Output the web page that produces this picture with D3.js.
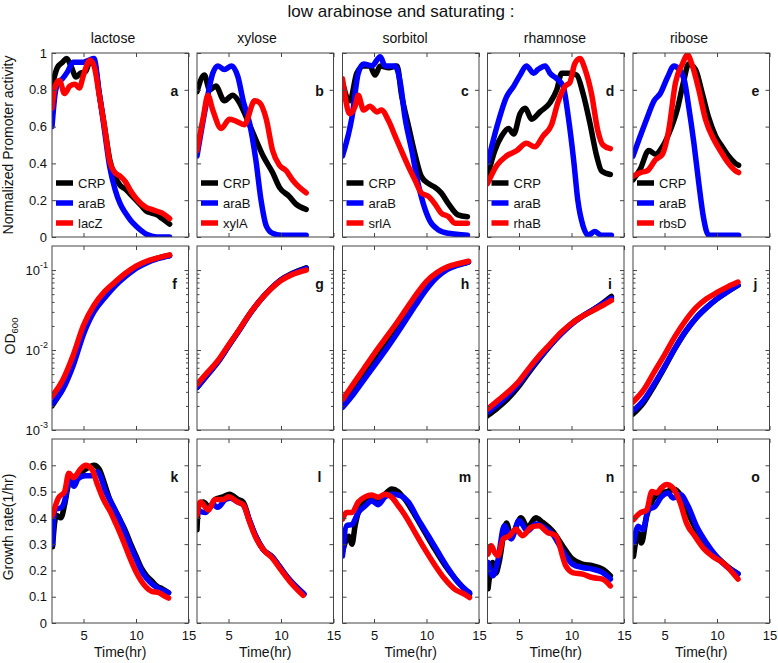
<!DOCTYPE html>
<html><head><meta charset="utf-8">
<script src="https://cdn.jsdelivr.net/npm/d3@7"></script>
<style>body{margin:0;background:#fff;} svg{display:block;font-family:Arial,"Liberation Sans",Helvetica,sans-serif;}</style>
</head><body><svg id="chart" width="778" height="663"></svg>
<script>
// ---------- labels / ticks ----------
const chartTitle = "low arabinose and saturating :";
const carbons = ["lactose","xylose","sorbitol","rhamnose","ribose"];
const seriesLabels = [["CRP","araB","lacZ"],["CRP","araB","xylA"],["CRP","araB","srlA"],["CRP","araB","rhaB"],["CRP","araB","rbsD"]];
const panelLetters = [["a","b","c","d","e"],["f","g","h","i","j"],["k","l","m","n","o"]];
const seriesColors = ["#000000","#0000ff","#ff0000"];
const timeDomain = [2,15];
const timeTicks = [5,10,15];
const promDomain = [0,1];
const promTicks = [0,0.2,0.4,0.6,0.8,1];
const odDomain = [0.001,0.2];
const odTicks = [0.001,0.01,0.1];
const odTickExp = ["-3","-2","-1"];
const odMinorTicks = [0.002,0.003,0.004,0.005,0.006,0.007,0.008,0.009,0.02,0.03,0.04,0.05,0.06,0.07,0.08,0.09];
const rateDomain = [0,0.7];
const rateTicks = [0,0.1,0.2,0.3,0.4,0.5,0.6];

// ---------- row 1: normalized promoter activity [time(hr), value] ----------
const a_CRP = [[2,0.82],[2.5,0.92],[3,0.95],[3.4,0.97],[3.8,0.93],[4.3,0.87],[4.7,0.89],[5.2,0.9],[5.6,0.95],[6,0.95],[6.5,0.78],[7,0.6],[7.5,0.42],[8,0.33],[8.5,0.28],[9,0.26],[9.5,0.23],[10,0.2],[10.5,0.17],[11,0.14],[11.5,0.13],[12,0.12],[12.5,0.1],[13.2,0.07]];
const a_araB = [[2,0.6],[2.3,0.78],[2.6,0.84],[3,0.86],[3.5,0.9],[4,0.95],[4.5,0.95],[5,0.95],[5.5,0.96],[6,0.97],[6.5,0.78],[7,0.58],[7.5,0.38],[8,0.26],[8.5,0.18],[9,0.13],[9.5,0.09],[10,0.06],[10.5,0.035],[11,0.015],[11.5,0.005],[12,0],[13.2,0]];
const a_lacZ = [[2,0.7],[2.3,0.82],[2.7,0.85],[3.2,0.78],[3.7,0.82],[4.2,0.83],[4.6,0.81],[5,0.88],[5.6,0.96],[6,0.93],[6.5,0.77],[7,0.6],[7.5,0.41],[8,0.35],[8.5,0.33],[9,0.3],[9.5,0.25],[10,0.21],[10.5,0.18],[11,0.16],[11.5,0.15],[12,0.14],[12.5,0.13],[13.2,0.1]];
const b_CRP = [[2,0.79],[2.7,0.88],[3.2,0.8],[3.8,0.82],[4.6,0.74],[5.4,0.77],[6.05,0.73],[6.7,0.65],[7.6,0.53],[8.3,0.44],[9.2,0.35],[9.85,0.27],[10.8,0.22],[11.4,0.18],[12.4,0.15]];
const b_araB = [[2,0.44],[2.9,0.73],[3.5,0.89],[4,0.93],[4.6,0.91],[5.3,0.93],[5.9,0.87],[6.4,0.74],[7,0.62],[7.6,0.42],[8.1,0.2],[8.6,0.06],[9.2,0.02],[10,0.01],[12.4,0.01]];
const b_xylA = [[2,0.47],[2.6,0.65],[3.04,0.77],[3.5,0.69],[4.3,0.59],[5.1,0.64],[5.7,0.63],[6.5,0.61],[7.5,0.74],[7.95,0.73],[8.6,0.64],[9.2,0.47],[9.85,0.39],[10.5,0.36],[11.1,0.31],[11.75,0.27],[12.4,0.24]];
const c_CRP = [[2,0.84],[2.7,0.74],[3.36,0.89],[4,0.93],[4.6,0.93],[5.1,0.88],[5.6,0.93],[6.4,0.92],[7.2,0.93],[7.6,0.78],[8.3,0.6],[8.9,0.45],[9.5,0.33],[10.2,0.29],[10.8,0.27],[11.4,0.24],[12.1,0.18],[13,0.12],[13.9,0.11]];
const c_araB = [[2,0.44],[2.9,0.65],[3.5,0.89],[4,0.94],[4.8,0.93],[5.6,0.98],[6.05,0.93],[7,0.93],[7.5,0.84],[7.95,0.65],[8.6,0.47],[9.2,0.29],[9.7,0.18],[10.3,0.09],[11.1,0.04],[12.1,0.02],[13.9,0.01]];
const c_srlA = [[2,0.86],[2.7,0.67],[3.2,0.71],[3.5,0.77],[4,0.69],[4.6,0.71],[5.3,0.68],[5.7,0.69],[6.4,0.63],[7,0.55],[7.6,0.47],[8.3,0.38],[8.9,0.31],[9.5,0.24],[10.2,0.22],[10.8,0.18],[11.4,0.13],[12.1,0.11],[12.7,0.075],[13.9,0.075]];
const d_CRP = [[2,0.33],[2.7,0.47],[3.36,0.55],[4,0.59],[4.5,0.56],[5.1,0.67],[5.6,0.7],[6.2,0.64],[7,0.68],[7.95,0.73],[8.6,0.8],[9.06,0.89],[9.85,0.89],[10.5,0.88],[11.1,0.78],[11.75,0.62],[12.4,0.44],[12.85,0.36],[13.7,0.34]];
const d_araB = [[2,0.4],[2.9,0.6],[3.8,0.76],[4.5,0.82],[5.1,0.88],[5.7,0.93],[6.4,0.89],[6.8,0.91],[7.5,0.93],[7.95,0.89],[8.6,0.86],[9.2,0.82],[9.7,0.65],[10.2,0.42],[10.6,0.2],[11.1,0.06],[11.6,0.01],[12.2,0.03],[12.85,0.01],[13.8,0.01]];
const d_rhaB = [[2,0.29],[2.9,0.39],[3.8,0.44],[4.8,0.47],[5.7,0.51],[6.5,0.49],[7.3,0.55],[8.1,0.61],[8.7,0.73],[9.4,0.82],[9.85,0.84],[10.3,0.94],[10.8,0.97],[11.3,0.91],[11.9,0.78],[12.5,0.58],[13,0.5],[13.7,0.48]];
const e_CRP = [[2,0.31],[2.7,0.37],[3.5,0.47],[4.15,0.45],[4.8,0.49],[5.4,0.56],[6.2,0.69],[6.8,0.84],[7.3,0.94],[7.95,0.91],[8.6,0.78],[9.2,0.65],[9.85,0.55],[10.5,0.49],[11.1,0.44],[11.75,0.4],[12.06,0.39]];
const e_araB = [[2,0.44],[2.7,0.55],[3.36,0.65],[4,0.74],[4.6,0.78],[5.3,0.87],[5.9,0.93],[6.4,0.91],[6.9,0.85],[7.3,0.71],[7.8,0.51],[8.27,0.29],[8.7,0.11],[9.2,0.01],[12.06,0.01]];
const e_rbsD = [[2,0.33],[2.7,0.35],[3.36,0.36],[4.15,0.42],[4.8,0.45],[5.4,0.58],[6.05,0.84],[6.7,0.94],[7.2,0.99],[7.6,0.94],[8.27,0.8],[8.9,0.64],[9.7,0.53],[10.3,0.47],[11.1,0.4],[11.75,0.36],[12.06,0.35]];

// ---------- row 2: OD600 ----------
const f_CRP = [[2,0.002],[3,0.0033],[4,0.0068],[5,0.0168],[6,0.0316],[7,0.0468],[8,0.065],[9,0.085],[10,0.107],[11,0.125],[12,0.14],[13.2,0.152]];
const f_araB = [[2,0.00209],[3,0.00316],[4,0.0063],[5,0.0158],[6,0.0302],[7,0.0447],[8,0.0631],[9,0.0832],[10,0.105],[11,0.123],[12,0.138],[13.2,0.151]];
const f_lacZ = [[2,0.00263],[3,0.00417],[4,0.0085],[5,0.0204],[6,0.0363],[7,0.0537],[8,0.0708],[9,0.0912],[10,0.112],[11,0.129],[12,0.141],[13.2,0.155]];
const g_CRP = [[2,0.00339],[3,0.0049],[4,0.0071],[5,0.0112],[6,0.0176],[7,0.028],[8,0.0417],[9,0.058],[10,0.076],[11,0.09],[12.4,0.107]];
const g_araB = [[2,0.00339],[3,0.0049],[4,0.0071],[5,0.0112],[6,0.0175],[7,0.0279],[8,0.0415],[9,0.0578],[10,0.075],[11,0.089],[12.4,0.105]];
const g_xylA = [[2,0.00372],[3,0.00525],[4,0.00741],[5,0.0115],[6,0.0178],[7,0.0282],[8,0.0417],[9,0.0575],[10,0.0741],[11,0.0871],[12.4,0.1]];
const h_CRP = [[2,0.00209],[3,0.00316],[4,0.00501],[5,0.00759],[6,0.0117],[7,0.0182],[8,0.0282],[9,0.0437],[10,0.0661],[11,0.0871],[12,0.105],[13,0.117],[14,0.126]];
const h_araB = [[2,0.00191],[3,0.00275],[4,0.00417],[5,0.00631],[6,0.00955],[7,0.0148],[8,0.0234],[9,0.0372],[10,0.0575],[11,0.0813],[12,0.102],[13,0.115],[14,0.126]];
const h_srlA = [[2,0.0024],[3,0.00372],[4,0.00575],[5,0.00891],[6,0.0135],[7,0.0204],[8,0.0316],[9,0.049],[10,0.0724],[11,0.0933],[12,0.11],[13,0.12],[14,0.129]];
const i_CRP = [[2,0.00151],[3,0.00191],[4,0.00251],[5,0.00355],[6,0.00537],[7,0.00794],[8,0.0115],[9,0.0162],[10,0.0214],[11,0.0263],[12,0.0316],[13,0.0389],[13.8,0.0468]];
const i_araB = [[2,0.00166],[3,0.00209],[4,0.00275],[5,0.0038],[6,0.00562],[7,0.00813],[8,0.0115],[9,0.0158],[10,0.0209],[11,0.0263],[12,0.0316],[13,0.038],[13.8,0.0447]];
const i_rhaB = [[2,0.00182],[3,0.00234],[4,0.00302],[5,0.00407],[6,0.00603],[7,0.00871],[8,0.012],[9,0.0166],[10,0.0214],[11,0.0263],[12,0.0309],[13,0.0363],[13.8,0.0417]];
const j_CRP = [[2,0.00158],[3,0.00219],[4,0.00355],[5,0.00603],[6,0.0105],[7,0.017],[8,0.0251],[9,0.0339],[10,0.0437],[11,0.0537],[12,0.0646]];
const j_araB = [[2,0.00174],[3,0.00234],[4,0.00372],[5,0.00617],[6,0.0105],[7,0.017],[8,0.0251],[9,0.0339],[10,0.0437],[11,0.0537],[12,0.0646]];
const j_rbsD = [[2,0.00224],[3,0.00316],[4,0.00525],[5,0.00871],[6,0.0148],[7,0.0234],[8,0.0339],[9,0.0437],[10,0.0525],[11,0.0617],[12,0.0708]];

// ---------- row 3: growth rate (1/hr) ----------
const k_CRP = [[2.05,0.29],[2.4,0.41],[2.85,0.4],[3.2,0.45],[3.6,0.53],[4.05,0.55],[4.7,0.57],[5.2,0.585],[6,0.6],[6.5,0.585],[7,0.53],[7.5,0.47],[8,0.43],[8.5,0.39],[9,0.35],[9.5,0.3],[10,0.255],[10.5,0.21],[11,0.18],[11.5,0.16],[12,0.14],[12.5,0.13],[13.1,0.115]];
const k_araB = [[2.05,0.3],[2.25,0.43],[2.9,0.44],[3.3,0.48],[3.6,0.55],[4.1,0.52],[4.5,0.55],[5.2,0.56],[5.8,0.56],[6.3,0.575],[6.7,0.55],[7,0.51],[7.5,0.47],[8,0.43],[8.5,0.39],[9,0.34],[9.5,0.29],[10,0.245],[10.5,0.2],[11,0.17],[11.5,0.15],[12,0.135],[12.5,0.125],[13.1,0.115]];
const k_lacZ = [[2.05,0.41],[2.6,0.475],[3.2,0.5],[3.6,0.57],[4.05,0.553],[4.7,0.585],[5.2,0.6],[5.8,0.585],[6.3,0.53],[6.9,0.47],[7.6,0.42],[8,0.385],[8.5,0.34],[9,0.29],[9.5,0.24],[10,0.195],[10.5,0.16],[11,0.135],[11.5,0.12],[12.2,0.115],[12.6,0.105],[13.1,0.095]];
const l_CRP = [[2,0.355],[2.15,0.45],[2.6,0.46],[3.2,0.44],[3.7,0.47],[4.5,0.48],[5.1,0.49],[5.9,0.47],[6.4,0.46],[7,0.39],[7.6,0.33],[8.3,0.28],[9.2,0.25],[9.85,0.215],[10.8,0.165],[12.1,0.113]];
const l_araB = [[2,0.43],[2.8,0.42],[3.5,0.45],[4,0.44],[4.7,0.47],[5.2,0.475],[5.9,0.46],[6.4,0.45],[7,0.39],[7.6,0.33],[8.3,0.28],[9.2,0.25],[9.85,0.215],[10.8,0.165],[12.2,0.11]];
const l_xylA = [[2,0.41],[2.3,0.46],[3.1,0.43],[3.7,0.47],[4.5,0.47],[5,0.48],[5.9,0.46],[6.4,0.45],[7,0.385],[7.6,0.325],[8.3,0.28],[9.2,0.245],[9.85,0.21],[10.8,0.16],[12.1,0.105]];
const m_CRP = [[2,0.27],[2.6,0.33],[2.9,0.3],[3.2,0.37],[3.5,0.42],[4.15,0.46],[4.8,0.48],[5.6,0.466],[6.05,0.49],[6.7,0.51],[7.3,0.5],[7.95,0.47],[8.9,0.41],[9.85,0.345],[10.8,0.28],[11.75,0.22],[12.7,0.17],[13.6,0.13],[14.1,0.11]];
const m_araB = [[2,0.255],[2.4,0.37],[2.9,0.375],[3.5,0.42],[4.15,0.445],[4.8,0.465],[5.4,0.45],[6.05,0.48],[6.7,0.49],[7.5,0.485],[8.27,0.46],[9.2,0.395],[10.2,0.33],[11.1,0.27],[12.1,0.205],[13,0.155],[14.1,0.115]];
const m_srlA = [[2,0.395],[2.4,0.42],[2.9,0.42],[3.5,0.46],[4.15,0.48],[4.8,0.487],[5.4,0.478],[6.05,0.49],[6.7,0.478],[7.3,0.447],[7.95,0.41],[8.9,0.345],[9.85,0.28],[10.8,0.22],[11.75,0.167],[12.7,0.128],[13.6,0.11],[14.1,0.097]];
const n_CRP = [[2.05,0.13],[2.5,0.23],[2.8,0.19],[3.1,0.23],[3.8,0.38],[4.25,0.33],[5.2,0.4],[5.8,0.364],[6.6,0.4],[7.25,0.383],[8.2,0.35],[9.15,0.294],[10.1,0.243],[11.05,0.224],[12,0.218],[12.95,0.205],[13.7,0.18]];
const n_araB = [[2.05,0.23],[2.5,0.18],[2.95,0.23],[3.6,0.37],[4.25,0.32],[5,0.39],[5.8,0.35],[6.6,0.377],[7.4,0.364],[8.2,0.338],[9.15,0.275],[10.1,0.224],[11.05,0.211],[12,0.205],[12.95,0.192],[13.7,0.167]];
const n_rhaB = [[2.05,0.262],[2.35,0.294],[2.7,0.268],[3,0.256],[3.5,0.32],[4.1,0.332],[4.7,0.357],[5.35,0.332],[6.15,0.364],[6.9,0.37],[7.7,0.345],[8.5,0.332],[9.45,0.218],[10.1,0.192],[11.05,0.186],[12,0.173],[12.95,0.167],[13.7,0.141]];
const o_CRP = [[2.05,0.253],[2.5,0.342],[2.8,0.304],[3.3,0.406],[3.9,0.47],[4.55,0.495],[5.2,0.5],[6,0.508],[6.6,0.482],[7.4,0.406],[8.35,0.33],[9.3,0.279],[10.3,0.24],[11.2,0.209],[12,0.187]];
const o_araB = [[2.05,0.304],[2.5,0.368],[2.95,0.355],[3.45,0.43],[4.1,0.444],[4.7,0.48],[5.35,0.495],[5.8,0.476],[6.5,0.489],[7.25,0.444],[8.05,0.368],[9,0.304],[9.95,0.253],[10.9,0.215],[12,0.187]];
const o_rbsD = [[2.05,0.393],[2.65,0.418],[3.3,0.43],[3.8,0.5],[4.25,0.495],[4.7,0.514],[5.2,0.527],[5.8,0.514],[6.5,0.457],[7.1,0.38],[7.9,0.33],[8.7,0.285],[9.6,0.253],[10.6,0.228],[12,0.167]];

// ---------- layout ----------
const colLeft = [52,197,342.5,487.5,633];
const colW = 136.5;
const rowTop = [53,246,439];
const rowH = 184;
const titleCenters = [113,257,405,555,689];
const boxColor = "#444";
const fontFam = "Arial, 'Liberation Sans', Helvetica, sans-serif";

const rows = [
  {data:[[a_CRP,a_araB,a_lacZ],[b_CRP,b_araB,b_xylA],[c_CRP,c_araB,c_srlA],[d_CRP,d_araB,d_rhaB],[e_CRP,e_araB,e_rbsD]],
   scale:()=>d3.scaleLinear().domain(promDomain), ticks:promTicks, fmt:d=>d3.format("~g")(d)},
  {data:[[f_CRP,f_araB,f_lacZ],[g_CRP,g_araB,g_xylA],[h_CRP,h_araB,h_srlA],[i_CRP,i_araB,i_rhaB],[j_CRP,j_araB,j_rbsD]],
   scale:()=>d3.scaleLog().domain(odDomain), ticks:odTicks, log:true},
  {data:[[k_CRP,k_araB,k_lacZ],[l_CRP,l_araB,l_xylA],[m_CRP,m_araB,m_srlA],[n_CRP,n_araB,n_rhaB],[o_CRP,o_araB,o_rbsD]],
   scale:()=>d3.scaleLinear().domain(rateDomain), ticks:rateTicks, fmt:d=>d3.format("~g")(d)}
];

const svg = d3.select("#chart").attr("font-family", fontFam);
const defs = svg.append("defs");

svg.append("text").attr("x",401).attr("y",17).attr("text-anchor","middle")
  .attr("font-size",17).attr("fill","#111").text(chartTitle);
carbons.forEach((c,i)=>svg.append("text").attr("x",titleCenters[i]).attr("y",43)
  .attr("text-anchor","middle").attr("font-size",14).attr("fill","#111").text(c));

function styleAxis(g){
  g.select(".domain").remove();
  g.attr("color",boxColor).attr("font-size",13).attr("font-family",fontFam);
  g.selectAll("text").attr("fill","#111");
}

rows.forEach((row,r)=>{
  for(let c=0;c<5;c++){
    const left = colLeft[c], top = rowTop[r], right = left+colW, bottom = top+rowH;
    const x = d3.scaleLinear().domain(timeDomain).range([left,right]);
    const y = row.scale().range([bottom,top]);
    const clipId = `clip-${r}-${c}`;
    defs.append("clipPath").attr("id",clipId).append("rect")
      .attr("x",left).attr("y",top).attr("width",colW).attr("height",rowH);
    const panel = svg.append("g");
    const lg = panel.append("g").attr("clip-path",`url(#${clipId})`);
    const line = d3.line().x(d=>x(d[0])).y(d=>y(d[1])).curve(d3.curveMonotoneX);
    row.data[c].forEach((s,k)=>{
      lg.append("path").attr("d",line(s)).attr("fill","none")
        .attr("stroke",seriesColors[k]).attr("stroke-width",5.5)
        .attr("stroke-linejoin","round").attr("stroke-linecap","round");
    });

    // axes: inward ticks on all four sides
    const showY = (c===0) && !row.log;
    panel.append("g").attr("transform",`translate(${left},0)`)
      .call(d3.axisLeft(y).tickValues(row.ticks).tickSize(-4).tickPadding(5)
        .tickFormat(showY ? row.fmt : ()=>"")).call(styleAxis);
    panel.append("g").attr("transform",`translate(${right},0)`)
      .call(d3.axisRight(y).tickValues(row.ticks).tickSize(-4).tickFormat(()=>"")).call(styleAxis);
    if(row.log){
      panel.append("g").attr("transform",`translate(${left},0)`)
        .call(d3.axisLeft(y).tickValues(odMinorTicks).tickSize(-2.5).tickFormat(()=>"")).call(styleAxis);
      panel.append("g").attr("transform",`translate(${right},0)`)
        .call(d3.axisRight(y).tickValues(odMinorTicks).tickSize(-2.5).tickFormat(()=>"")).call(styleAxis);
      if(c===0){
        odTicks.forEach((t,ti)=>{
          const tx = panel.append("text").attr("x",left-4).attr("y",y(t)+5)
            .attr("text-anchor","end").attr("font-size",13).attr("fill","#111");
          tx.append("tspan").text("10");
          tx.append("tspan").attr("font-size",9).attr("dy",-7).text(odTickExp[ti]);
        });
      }
    }
    panel.append("g").attr("transform",`translate(0,${top})`)
      .call(d3.axisTop(x).tickValues(timeTicks).tickSize(-4).tickFormat(()=>"")).call(styleAxis);
    panel.append("g").attr("transform",`translate(0,${bottom})`)
      .call(d3.axisBottom(x).tickValues(timeTicks).tickSize(-4).tickPadding(8)
        .tickFormat(r===2 ? d3.format("d") : ()=>"")).call(styleAxis);

    panel.append("rect").attr("x",left).attr("y",top).attr("width",colW).attr("height",rowH)
      .attr("fill","none").attr("stroke",boxColor).attr("stroke-width",1);

    panel.append("text").attr("x",right-14).attr("y",top+43).attr("text-anchor","middle")
      .attr("font-size",14).attr("font-weight","bold").attr("fill","#111").text(panelLetters[r][c]);

    if(r===0){
      seriesLabels[c].forEach((lab,k)=>{
        const ly = top+130+k*20;
        panel.append("line").attr("x1",left+4).attr("x2",left+21).attr("y1",ly).attr("y2",ly)
          .attr("stroke",seriesColors[k]).attr("stroke-width",5.5);
        panel.append("text").attr("x",left+26).attr("y",ly).attr("dy","0.35em")
          .attr("font-size",13).attr("fill","#111").text(lab);
      });
    }
    if(r===2){
      panel.append("text").attr("x",(left+right)/2).attr("y",657).attr("text-anchor","middle")
        .attr("font-size",14).attr("fill","#111").text("Time(hr)");
    }
  }
});

svg.append("text").attr("transform","translate(13,145) rotate(-90)").attr("text-anchor","middle")
  .attr("font-size",14).attr("fill","#111").text("Normalized Promoter activity");
const odLab = svg.append("text").attr("transform","translate(15,336) rotate(-90)").attr("text-anchor","middle")
  .attr("font-size",14).attr("fill","#111");
odLab.append("tspan").text("OD");
odLab.append("tspan").attr("font-size",9.5).attr("dy",3).text("600");
svg.append("text").attr("transform","translate(13,527) rotate(-90)").attr("text-anchor","middle")
  .attr("font-size",14).attr("fill","#111").text("Growth rate(1/hr)");
</script></body></html>
